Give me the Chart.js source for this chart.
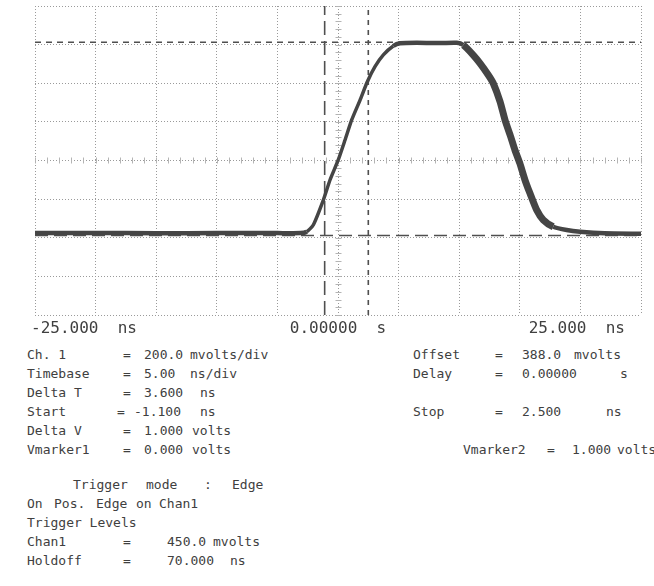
<!DOCTYPE html>
<html>
<head>
<meta charset="utf-8">
<script src="https://cdn.jsdelivr.net/npm/chart.js@4.4.1/dist/chart.umd.min.js"></script>
<style>
  body { margin: 0; background: #fff; width: 654px; height: 586px; overflow: hidden; position: relative;
         font-family: "DejaVu Sans Mono", monospace; color: #404040; }
  #scope { position: absolute; left: 0; top: 0; width: 654px; height: 345px; }
  .t { position: absolute; font-size: 13px; line-height: 14px; white-space: pre; }
</style>
</head>
<body>
<div id="scope"><canvas id="scopeChart"></canvas></div>

<div id="readout"></div>

<script>
// Channel 1 trace (ns, volts)
const timeNs = [-25, -20, -15, -10, -5, -3.1, -2.58, -2.04, -1.21, -0.66, 0.02, 0.58, 1.13, 1.82, 2.42, 3.05, 3.74, 4.56, 5.12,
                6.5, 8.0, 9.8, 10.34, 11.16, 11.72, 12.4, 12.81, 13.37, 13.78, 14.25, 14.6, 15.0, 15.43, 15.84, 16.39,
                16.94, 17.76, 18.87, 19.97, 22.0, 25];
const traceVolts = [0.012, 0.013, 0.011, 0.012, 0.012, 0.012, 0.019, 0.054, 0.183, 0.287, 0.391, 0.494, 0.598, 0.701, 0.796,
                    0.874, 0.935, 0.981, 0.995, 0.998, 0.996, 0.998, 0.986, 0.934, 0.891, 0.831, 0.788, 0.693, 0.598, 0.511,
                    0.442, 0.374, 0.287, 0.218, 0.132, 0.080, 0.045, 0.028, 0.019, 0.011, 0.009];

// screen divisions
const xGridNs = [-25, -20, -15, -10, -5, 0, 5, 10, 15, 20, 25];
const yGridVolts = [-0.412, -0.212, -0.012, 0.188, 0.388, 0.588, 0.788, 0.988, 1.188];
const xLabelNs = [-25, 0, 25];
const xLabelText = ['-25.000  ns', '0.00000  s', '25.000  ns'];

// markers
const startNs = -1.1;
const stopNs = 2.5;
const vMarker1 = 0.0;
const vMarker2 = 1.0;

const xMin = xGridNs[0], xMax = xGridNs[xGridNs.length - 1];
const yMin = yGridVolts[0], yMax = yGridVolts[yGridVolts.length - 1];

// readout block under the screen: [row middle, [[x, text], ...]]
const readout = [
  [355, [[27, 'Ch. 1'], [123, '='], [144, '200.0'], [190, 'mvolts/div'], [413, 'Offset'], [495, '='], [522, '388.0'], [574, 'mvolts']]],
  [374, [[27, 'Timebase'], [123, '='], [144, '5.00'], [190, 'ns/div'], [413, 'Delay'], [495, '='], [522, '0.00000'], [620, 's']]],
  [393, [[27, 'Delta T'], [123, '='], [144, '3.600'], [200, 'ns']]],
  [412, [[27, 'Start'], [117, '='], [134, '-1.100'], [200, 'ns'], [413, 'Stop'], [495, '='], [522, '2.500'], [606, 'ns']]],
  [431, [[27, 'Delta V'], [123, '='], [144, '1.000'], [192, 'volts']]],
  [450, [[27, 'Vmarker1'], [123, '='], [144, '0.000'], [192, 'volts'], [463, 'Vmarker2'], [547, '='], [572, '1.000'], [617, 'volts']]],
  [485, [[73, 'Trigger'], [146, 'mode'], [204, ':'], [232, 'Edge']]],
  [504, [[27, 'On'], [54, 'Pos.'], [96, 'Edge'], [136, 'on'], [159, 'Chan1']]],
  [523, [[27, 'Trigger Levels']]],
  [542, [[27, 'Chan1'], [123, '='], [167, '450.0'], [213, 'mvolts']]],
  [561, [[27, 'Holdoff'], [123, '='], [167, '70.000'], [230, 'ns']]]
];
const box = document.getElementById('readout');
readout.forEach(([y, parts]) => {
  parts.forEach(([x, txt]) => {
    const s = document.createElement('span');
    s.className = 't';
    s.style.left = x + 'px';
    s.style.top = (y - 7) + 'px';
    s.textContent = txt;
    box.appendChild(s);
  });
});

// center crosshair with minor ticks (5 per division)
const crosshair = {
  id: 'crosshair',
  beforeDatasetsDraw(chart) {
    const { ctx, scales: { x, y } } = chart;
    const cx = Math.round(x.getPixelForValue(0)) + 0.5, cy = Math.round(y.getPixelForValue(yGridVolts[4])) + 0.5;
    ctx.save();
    ctx.strokeStyle = '#b4b4b4';
    ctx.lineWidth = 1;
    ctx.beginPath();
    for (let v = xMin; v <= xMax + 1e-9; v += 1) {
      const px = Math.round(x.getPixelForValue(v)) + 0.5;
      ctx.moveTo(px, cy - 3); ctx.lineTo(px, cy + 3);
    }
    for (let v = yMin; v <= yMax + 1e-9; v += 0.04) {
      const py = Math.round(y.getPixelForValue(v)) + 0.5;
      ctx.moveTo(cx - 3, py); ctx.lineTo(cx + 3, py);
    }
    ctx.stroke();
    ctx.restore();
  }
};

// time labels under the screen: left one starts at the left edge, centre one centred, right one short of the edge
const timeLabels = {
  id: 'timeLabels',
  afterDraw(chart) {
    const { ctx, chartArea: a, scales: { x } } = chart;
    ctx.save();
    ctx.fillStyle = '#404040';
    ctx.font = '16px "DejaVu Sans Mono"';
    ctx.textBaseline = 'middle';
    const aligns = ['left', 'center', 'right'];
    const nudge = [-4, 0, -16];
    xLabelNs.forEach((v, i) => {
      ctx.textAlign = aligns[i];
      ctx.fillText(xLabelText[i], x.getPixelForValue(v) + nudge[i], a.bottom + 14);
    });
    ctx.restore();
  }
};

const markerLine = (pts, dash) => ({
  data: pts, borderColor: '#4f4f4f', borderWidth: 1.6, borderDash: dash,
  pointRadius: 0, fill: false, order: 2
});

new Chart(document.getElementById('scopeChart'), {
  type: 'line',
  data: {
    datasets: [
      {
        label: 'Ch. 1',
        data: timeNs.map((t, i) => ({ x: t, y: traceVolts[i] })),
        borderColor: '#454545',
        borderWidth: 4,
        pointRadius: 0,
        tension: 0.2,
        fill: false,
        order: 1,
        segment: {
          // falling edge smears wider than the rising edge
          borderWidth: c => {
            const dv = c.p1.parsed.y - c.p0.parsed.y;
            return dv < -0.03 ? 7 : dv > 0.03 ? 3.5 : 4.5;
          }
        }
      },
      markerLine([{ x: xMin, y: vMarker1 }, { x: xMax, y: vMarker1 }], [13, 6]),
      markerLine([{ x: xMin, y: vMarker2 }, { x: xMax, y: vMarker2 }], [6, 5]),
      markerLine([{ x: startNs, y: yMin }, { x: startNs, y: yMax }], [14, 6]),
      markerLine([{ x: stopNs, y: yMin }, { x: stopNs, y: yMax }], [5, 5])
    ]
  },
  options: {
    responsive: true,
    maintainAspectRatio: false,
    animation: false,
    layout: { padding: { left: 35, right: 13, top: 6, bottom: 0 } },
    plugins: { legend: { display: false }, tooltip: { enabled: false } },
    scales: {
      x: {
        type: 'linear',
        min: xMin, max: xMax,
        afterBuildTicks: s => { s.ticks = xGridNs.map(v => ({ value: v })); },
        afterFit: s => { s.height = 30; },
        grid: { color: '#9a9a9a', lineWidth: 1, drawTicks: false },
        border: { display: false, dash: [1, 2] },
        ticks: { display: false }
      },
      y: {
        type: 'linear',
        min: yMin, max: yMax,
        afterBuildTicks: s => { s.ticks = yGridVolts.map(v => ({ value: v })); },
        afterFit: s => { s.width = 0; },
        grid: { color: '#9a9a9a', lineWidth: 1, drawTicks: false },
        border: { display: false, dash: [1, 2] },
        ticks: { display: false }
      }
    }
  },
  plugins: [crosshair, timeLabels]
});
</script>
</body>
</html>
